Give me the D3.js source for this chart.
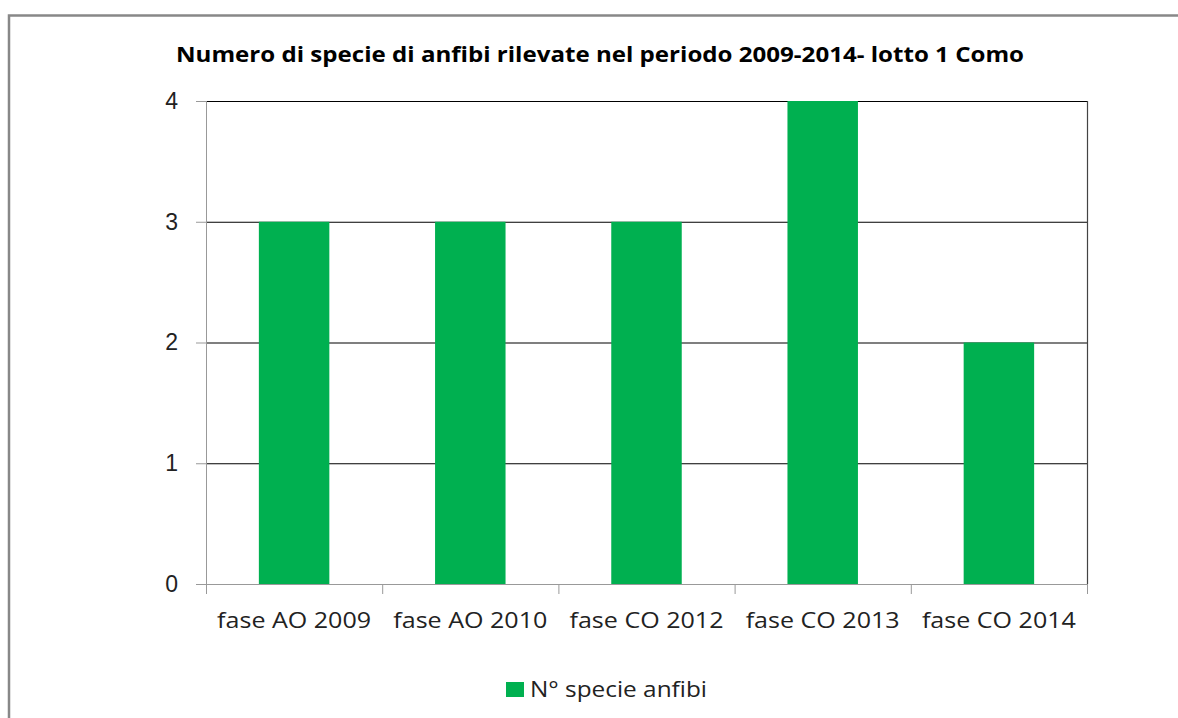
<!DOCTYPE html>
<html>
<head>
<meta charset="utf-8">
<script src="https://cdn.jsdelivr.net/npm/d3@7"></script>
<style>
  body { margin: 0; background: #fff; }
  svg { display: block; font-family: "Open Sans", "DejaVu Sans", sans-serif; }
</style>
</head>
<body>
<div id="chart"></div>
<script>
var categories = ['fase AO 2009', 'fase AO 2010', 'fase CO 2012', 'fase CO 2013', 'fase CO 2014'];
var values = [3, 3, 3, 4, 2];
var yTicks = [0, 1, 2, 3, 4];
var seriesName = 'N° specie anfibi';
var title = 'Numero di specie di anfibi rilevate nel periodo 2009-2014- lotto 1 Como';

var svgWidth = 1178,
  svgHeight = 718,
  margin = { top: 101, right: 91, bottom: 134, left: 206 };

var width = svgWidth - margin.left - margin.right;
var height = svgHeight - margin.top - margin.bottom;

var svg = d3.select('#chart')
  .append('svg')
  .attr('width', svgWidth)
  .attr('height', svgHeight);

// outer chart frame (runs off the right and bottom edges)
svg.append('rect')
  .attr('x', 9)
  .attr('y', 15.5)
  .attr('width', svgWidth + 20)
  .attr('height', svgHeight + 20)
  .attr('fill', 'none')
  .attr('stroke', '#888')
  .attr('stroke-width', 2.5);

svg.append('text')
  .attr('x', 176)
  .attr('y', 62)
  .attr('font-size', 21)
  .attr('font-weight', 'bold')
  .attr('fill', '#000')
  .attr('textLength', 848)
  .attr('lengthAdjust', 'spacingAndGlyphs')
  .text(title);

var g = svg.append('g')
  .attr('transform', 'translate(' + margin.left + ',' + margin.top + ')');

var x = d3.scaleBand().domain(categories).range([0, width]).paddingInner(0.6).paddingOuter(0.3);
var xb = d3.scaleBand().domain(categories).range([0, width]);
var y = d3.scaleLinear().domain([0, 4]).range([height, 0]);

// gridlines
g.selectAll('.grid')
  .data(yTicks.filter(function (d) { return d > 0; }))
  .enter()
  .append('line')
  .attr('x1', 0)
  .attr('x2', width)
  .attr('y1', function (d) { return y(d) + 0.5; })
  .attr('y2', function (d) { return y(d) + 0.5; })
  .attr('stroke', '#000')
  .attr('stroke-width', 1.2);

// right plot border
g.append('line')
  .attr('x1', width + 0.5).attr('x2', width + 0.5)
  .attr('y1', 0).attr('y2', height)
  .attr('stroke', '#444')
  .attr('stroke-width', 1.2);

g.selectAll('.bar')
  .data(values)
  .enter()
  .append('rect')
  .attr('class', 'bar')
  .attr('x', function (d, i) { return x(categories[i]); })
  .attr('y', function (d) { return y(d); })
  .attr('width', x.bandwidth())
  .attr('height', function (d) { return height - y(d); })
  .attr('fill', '#00b050');

// y axis
var yAxis = g.append('g')
  .call(d3.axisLeft(y).tickValues(yTicks).tickSize(10).tickPadding(18).tickFormat(d3.format('d')));
yAxis.select('.domain').attr('stroke', '#999').attr('d', 'M0.5,0V' + height);
yAxis.selectAll('.tick line').attr('stroke', '#999');
yAxis.selectAll('.tick text').attr('font-size', 23).attr('fill', '#222');

// x axis with ticks at band boundaries
var xAxis = g.append('g')
  .attr('transform', 'translate(0,' + height + ')');
xAxis.append('line')
  .attr('x1', 0).attr('x2', width)
  .attr('y1', 0.5).attr('y2', 0.5)
  .attr('stroke', '#999');
xAxis.selectAll('.xtick')
  .data(categories.concat(['end']))
  .enter()
  .append('line')
  .attr('x1', function (d, i) { return (i < categories.length ? xb(d) : width) + 0.5; })
  .attr('x2', function (d, i) { return (i < categories.length ? xb(d) : width) + 0.5; })
  .attr('y1', 0).attr('y2', 10)
  .attr('stroke', '#999');
xAxis.selectAll('.xlabel')
  .data(categories)
  .enter()
  .append('text')
  .attr('x', function (d) { return xb(d) + xb.bandwidth() / 2 - 77; })
  .attr('y', 44)
  .attr('font-size', 21)
  .attr('fill', '#222')
  .attr('textLength', 154)
  .attr('lengthAdjust', 'spacingAndGlyphs')
  .text(function (d) { return d; });

// legend
var legend = svg.append('g').attr('transform', 'translate(506,682)');
legend.append('rect').attr('width', 18).attr('height', 15).attr('fill', '#00b050');
legend.append('text')
  .attr('x', 24).attr('y', 15)
  .attr('font-size', 21)
  .attr('fill', '#222')
  .attr('textLength', 177)
  .attr('lengthAdjust', 'spacingAndGlyphs')
  .text(seriesName);
</script>
</body>
</html>
